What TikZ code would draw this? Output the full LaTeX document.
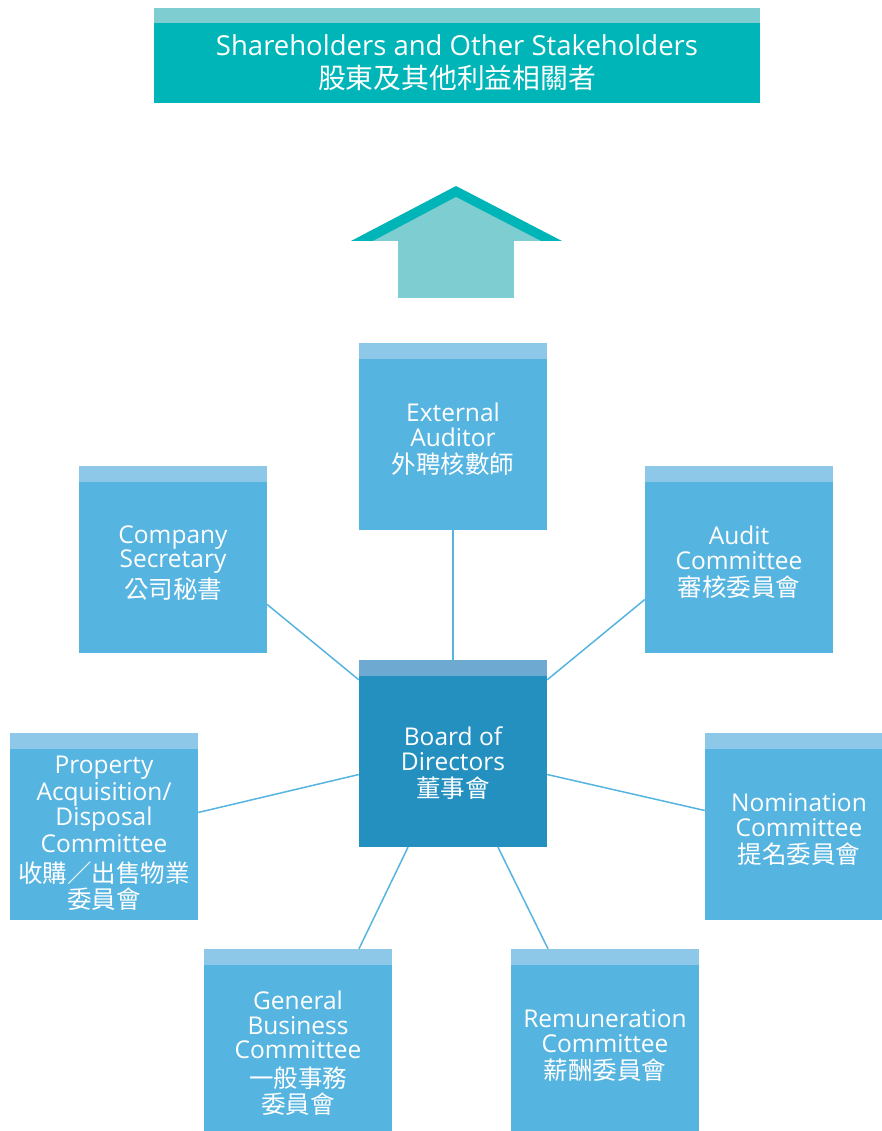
\documentclass[tikz,border=0pt]{standalone}
\usepackage{fontspec}
\setmainfont{Open Sans}
\newfontfamily\cjk{Noto Sans CJK TC}
\usepackage{xcolor}
\usetikzlibrary{positioning,calc}

\definecolor{shTeal}{HTML}{00B5B8}
\definecolor{shLight}{HTML}{7ECDD0}
\definecolor{unitBlue}{HTML}{56B4E0}
\definecolor{unitStrip}{HTML}{8DC8E9}
\definecolor{boardBlue}{HTML}{2490C0}
\definecolor{boardStrip}{HTML}{6DA9D0}

\begin{document}
\begin{tikzpicture}[
    x=1pt, y=-1pt,
    unit/.style={rectangle, fill=unitBlue, minimum width=188pt, minimum height=187pt, inner sep=0pt, align=center, text=white, font=\fontsize{24.5}{24.5}\selectfont,
        path picture={\fill[unitStrip] (path picture bounding box.north west) rectangle ([yshift=-16pt]path picture bounding box.north east);}},
    board/.style={unit, fill=boardBlue,
        path picture={\fill[boardStrip] (path picture bounding box.north west) rectangle ([yshift=-16pt]path picture bounding box.north east);}},
    banner/.style={rectangle, fill=shTeal, minimum width=606pt, minimum height=95pt, inner sep=0pt, align=center, text=white, font=\fontsize{27.5}{33}\selectfont,
        path picture={\fill[shLight] (path picture bounding box.north west) rectangle ([yshift=-15pt]path picture bounding box.north east);}},
    link/.style={draw=unitBlue, line width=1.5pt}
]
\useasboundingbox (0,0) rectangle (882,1131);

% Stakeholders
\node[banner] (stake) at (457,55.5) {\\[3pt]Shareholders and Other Stakeholders\\{\cjk\fontsize{27.8}{33}\selectfont 股東及其他利益相關者}};

% Upward arrow
\fill[shTeal] (456,186) -- (562,241) -- (351,241) -- cycle;
\fill[shLight] (456,197) -- (541,241) -- (373,241) -- cycle;
\fill[shLight] (398,236) rectangle (514,298);

% Board and committees
\node[board] (board) at (453,753.5) {\\[14pt]Board of\\Directors\\[3pt]{\cjk 董事會}};
\node[unit] (auditor) at (453,436.5) {\\External\\Auditor\\[3pt]{\cjk 外聘核數師}};
\node[unit] (secretary) at (173,559.5) {\\Company\\Secretary\\[3pt]{\cjk 公司秘書}};
\node[unit] (audit) at (739,559.5) {\\Audit\\Committee\\[3pt]{\cjk 審核委員會}};
\node[unit] (property) at (104,826.5) {\\[6pt]Property\\[3pt]Acquisition/\\Disposal\\[3pt]Committee\\[5pt]{\cjk 收購／出售物業}\\[2pt]{\cjk 委員會}};
\node[unit] (nomination) at (799,826.5) {\\Nomination\\Committee\\[3pt]{\cjk 提名委員會}};
\node[unit] (general) at (298,1042.5) {\\[16pt]General\\Business\\Committee\\[4pt]{\cjk 一般事務}\\[2pt]{\cjk 委員會}};
\node[unit] (remuneration) at (605,1042.5) {\\Remuneration\\Committee\\[3pt]{\cjk 薪酬委員會}};

% Links to the board
\draw[link] (auditor.south) -- (board.north);
\draw[link] ($(secretary.east)+(0,45)$) -- ($(board.north west)+(0,20)$);
\draw[link] ($(audit.west)+(0,40)$) -- ($(board.north east)+(0,20)$);
\draw[link] ($(property.east)+(0,-14)$) -- ($(board.west)+(0,21)$);
\draw[link] ($(nomination.west)+(0,-16)$) -- ($(board.east)+(0,21)$);
\draw[link] ($(general.north)+(61,0)$) -- ($(board.south)+(-45,0)$);
\draw[link] ($(remuneration.north)+(-57,0)$) -- ($(board.south)+(45,0)$);

\end{tikzpicture}
\end{document}
